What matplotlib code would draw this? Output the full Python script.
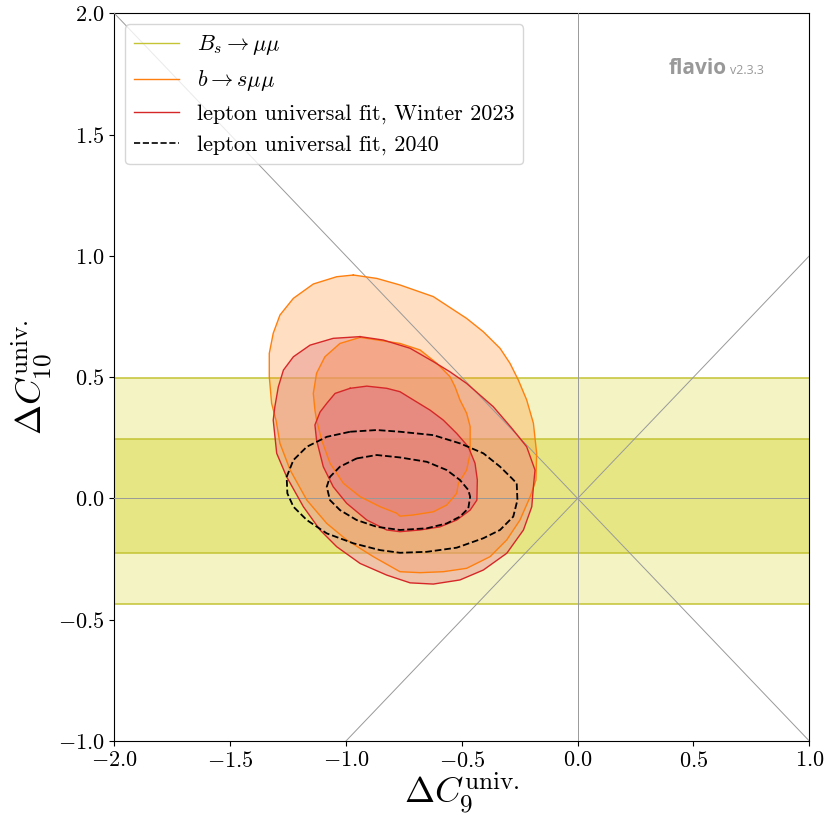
import numpy as np
import matplotlib
matplotlib.use('Agg')
import matplotlib.pyplot as plt
from matplotlib.colors import to_rgba
from matplotlib.lines import Line2D

plt.rcParams['font.family'] = 'serif'
plt.rcParams['font.serif'] = ['cmr10', 'DejaVu Serif']
plt.rcParams['mathtext.fontset'] = 'cm'
plt.rcParams['axes.formatter.use_mathtext'] = True
plt.rcParams['axes.unicode_minus'] = True

# B_s -> mu mu band (1 sigma, 2 sigma) in Delta C10
bs_band_1s = [-0.224, 0.244]
bs_band_2s = [-0.435, 0.495]

# b -> s mu mu, 2 sigma contour
bsmm_2s_x = [-0.968, -0.867, -0.767, -0.623, -0.479, -0.407, -0.335, -0.292, -0.256, -0.220,
             -0.191, -0.177, -0.180, -0.205, -0.249, -0.306, -0.378, -0.479, -0.580, -0.680,
             -0.767, -0.882, -0.997, -1.083, -1.169, -1.241, -1.285, -1.302, -1.321, -1.331,
             -1.331, -1.314, -1.285, -1.227, -1.141, -1.040]
bsmm_2s_y = [0.921, 0.907, 0.880, 0.832, 0.742, 0.687, 0.619, 0.557, 0.488, 0.406,
             0.310, 0.186, 0.076, 0.007, -0.089, -0.171, -0.240, -0.288, -0.302, -0.306,
             -0.302, -0.240, -0.171, -0.103, -0.007, 0.117, 0.227, 0.323, 0.392, 0.502,
             0.598, 0.681, 0.756, 0.825, 0.884, 0.914]

# b -> s mu mu, 1 sigma contour
bsmm_1s_x = [-0.939, -0.767, -0.680, -0.608, -0.551, -0.529, -0.508, -0.479, -0.464, -0.464,
             -0.479, -0.515, -0.522, -0.565, -0.623, -0.709, -0.767, -0.781, -0.853, -0.939,
             -1.011, -1.069, -1.105, -1.127, -1.134, -1.141, -1.127, -1.091, -1.026]
bsmm_1s_y = [0.664, 0.639, 0.612, 0.557, 0.502, 0.460, 0.406, 0.351, 0.296, 0.186,
             0.117, 0.062, 0.021, -0.027, -0.055, -0.068, -0.073, -0.061, -0.034, 0.007,
             0.062, 0.145, 0.241, 0.323, 0.364, 0.433, 0.516, 0.584, 0.639]

# lepton universal fit, Winter 2023, 2 sigma
lu23_2s_x = [-0.939, -0.839, -0.723, -0.623, -0.551, -0.479, -0.364, -0.284, -0.220, -0.184,
             -0.191, -0.198, -0.234, -0.306, -0.407, -0.508, -0.623, -0.723, -0.824, -0.939,
             -1.040, -1.112, -1.184, -1.256, -1.299, -1.314, -1.307, -1.292, -1.270, -1.227,
             -1.155, -1.055]
lu23_2s_y = [0.667, 0.653, 0.619, 0.564, 0.522, 0.474, 0.378, 0.289, 0.213, 0.117,
             0.048, -0.034, -0.130, -0.226, -0.295, -0.336, -0.353, -0.348, -0.316, -0.268,
             -0.199, -0.130, -0.034, 0.089, 0.186, 0.323, 0.378, 0.460, 0.529, 0.584,
             0.632, 0.660]

# lepton universal fit, Winter 2023, 1 sigma
lu23_1s_x = [-0.982, -0.910, -0.824, -0.767, -0.709, -0.637, -0.580, -0.522, -0.472, -0.443,
             -0.433, -0.435, -0.464, -0.522, -0.594, -0.680, -0.767, -0.824, -0.910, -0.997,
             -1.055, -1.098, -1.127, -1.134, -1.112, -1.083, -1.047]
lu23_1s_y = [0.454, 0.463, 0.454, 0.440, 0.406, 0.364, 0.323, 0.268, 0.213, 0.145,
             0.076, -0.007, -0.048, -0.089, -0.117, -0.130, -0.137, -0.130, -0.089, -0.020,
             0.048, 0.131, 0.241, 0.303, 0.356, 0.392, 0.433]

# lepton universal fit, 2040, 2 sigma
lu40_2s_x = [-0.982, -0.867, -0.767, -0.623, -0.508, -0.407, -0.335, -0.284, -0.263, -0.260,
             -0.278, -0.335, -0.407, -0.522, -0.651, -0.767, -0.853, -0.968, -1.083, -1.169,
             -1.227, -1.253, -1.256, -1.227, -1.169, -1.083]
lu40_2s_y = [0.275, 0.282, 0.275, 0.261, 0.227, 0.186, 0.131, 0.083, 0.062, -0.007,
             -0.075, -0.130, -0.164, -0.203, -0.220, -0.224, -0.213, -0.185, -0.144, -0.089,
             -0.034, 0.021, 0.089, 0.158, 0.213, 0.254]

# lepton universal fit, 2040, 1 sigma
lu40_1s_x = [-0.954, -0.867, -0.767, -0.651, -0.565, -0.508, -0.472, -0.464, -0.472, -0.508,
             -0.565, -0.651, -0.767, -0.867, -0.954, -1.026, -1.069, -1.083, -1.069, -1.026]
lu40_1s_y = [0.165, 0.179, 0.169, 0.151, 0.117, 0.076, 0.035, 0.007, -0.041, -0.075,
             -0.103, -0.123, -0.130, -0.117, -0.089, -0.048, -0.007, 0.048, 0.089, 0.131]

c_olive = '#c4c434'
c_orange = '#ff7f0e'
c_red = '#d62728'

fig = plt.figure(figsize=(8.3, 8.3), dpi=100)
ax = fig.add_axes([0.1377, 0.1072, 0.8374, 0.8768])

# B_s -> mu mu bands
ax.axhspan(bs_band_2s[0], bs_band_2s[1], facecolor='#f3f3c3', edgecolor='none', zorder=1)
ax.axhspan(bs_band_1s[0], bs_band_1s[1], facecolor='#e6e684', edgecolor='none', zorder=1)
for yv in bs_band_1s + bs_band_2s:
    ax.axhline(yv, color=c_olive, lw=1.1, zorder=1.5)


def contour(xs, ys, line_color, fill_color=None, alpha=0.0, ls='-', lw=1.0):
    xs = np.append(xs, xs[0])
    ys = np.append(ys, ys[0])
    if fill_color is not None:
        ax.fill(xs, ys, facecolor=to_rgba(fill_color, alpha), edgecolor='none', zorder=2)
    ax.plot(xs, ys, color=line_color, ls=ls, lw=lw, zorder=4)


contour(bsmm_2s_x, bsmm_2s_y, c_orange, c_orange, 0.25)
contour(bsmm_1s_x, bsmm_1s_y, c_orange, c_orange, 0.35)
contour(lu23_2s_x, lu23_2s_y, c_red, '#eb9490', 0.5)
contour(lu23_1s_x, lu23_1s_y, c_red, '#e07486', 0.55)
contour(lu40_2s_x, lu40_2s_y, 'k', ls='--', lw=1.3)
contour(lu40_1s_x, lu40_1s_y, 'k', ls='--', lw=1.3)

# reference lines
ax.plot([-2, 1], [2, -1], color='#999999', lw=0.7, zorder=3)
ax.plot([-1, 1], [-1, 1], color='#999999', lw=0.7, zorder=3)
ax.axvline(0, color='#999999', lw=0.7, zorder=3)
ax.axhline(0, color='#999999', lw=0.7, zorder=3)

ax.set_xlim(-2, 1)
ax.set_ylim(-1, 2)
ax.set_xticks([-2.0, -1.5, -1.0, -0.5, 0.0, 0.5, 1.0])
ax.set_yticks([-1.0, -0.5, 0.0, 0.5, 1.0, 1.5, 2.0])
ax.tick_params(labelsize=16)
ax.set_xlabel(r'$\Delta C_9^\mathrm{univ.}$', fontsize=26, labelpad=0)
ax.set_ylabel(r'$\Delta C_{10}^\mathrm{univ.}$', fontsize=26, labelpad=2)

handles = [Line2D([], [], color=c_olive, lw=1),
           Line2D([], [], color=c_orange, lw=1),
           Line2D([], [], color=c_red, lw=1),
           Line2D([], [], color='k', lw=1.2, ls='--')]
labels = [r'$B_s\to\mu\mu$', r'$b\to s\mu\mu$',
          'lepton universal fit, Winter 2023', 'lepton universal fit, 2040']
ax.legend(handles, labels, loc='upper left', fontsize=16, framealpha=0.8)

ax.text(0.797, 0.917, 'flavio', transform=ax.transAxes, fontsize=15, fontweight='bold',
        color='#999999', family=['Open Sans', 'DejaVu Sans'], va='baseline')
ax.text(0.886, 0.917, 'v2.3.3', transform=ax.transAxes, fontsize=9,
        color='#999999', family=['Open Sans', 'DejaVu Sans'], va='baseline')

fig.savefig('out.png', dpi=100)
